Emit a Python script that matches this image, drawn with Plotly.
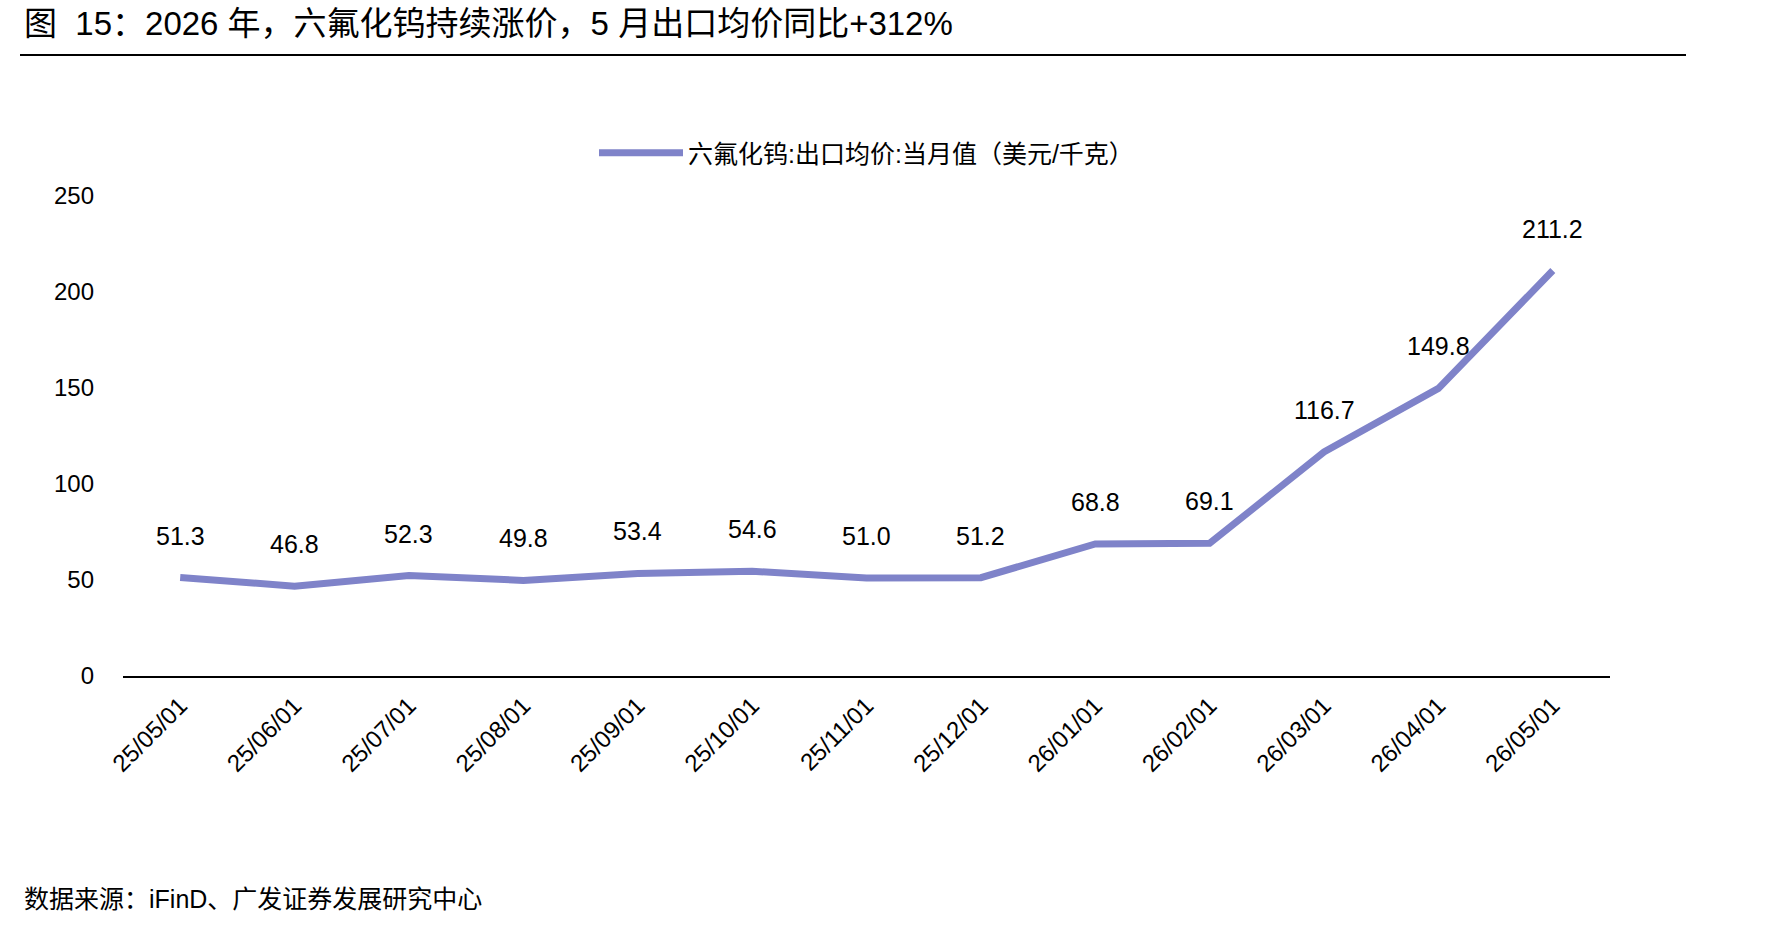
import plotly.graph_objects as go

dates = ["25/05/01", "25/06/01", "25/07/01", "25/08/01", "25/09/01", "25/10/01", "25/11/01",
         "25/12/01", "26/01/01", "26/02/01", "26/03/01", "26/04/01", "26/05/01"]
prices = [51.3, 46.8, 52.3, 49.8, 53.4, 54.6, 51.0, 51.2, 68.8, 69.1, 116.7, 149.8, 211.2]
series_name = "六氟化钨:出口均价:当月值（美元/千克）"
y_ticks = [0, 50, 100, 150, 200, 250]

FONT = "Arial, 'Liberation Sans', 'Noto Sans CJK SC', sans-serif"
LINE_COLOR = "#7f83c9"

L, R, T, B = 123, 180, 196, 250
W = 1790 - L - R
H = 926 - T - B

fig = go.Figure()
fig.add_trace(go.Scatter(
    x=dates, y=prices, mode="lines", name=series_name,
    line=dict(color=LINE_COLOR, width=7),
))

for d, v in zip(dates, prices):
    fig.add_annotation(x=d, y=v, text=f"{v:.1f}", showarrow=False, yshift=42,
                       font=dict(size=25, color="#000000", family=FONT))

fig.add_annotation(xref="paper", yref="paper", x=0, y=1, xanchor="left", yanchor="middle",
                   text="图\u00a0 15：2026 年，六氟化钨持续涨价，5 月出口均价同比+312%",
                   showarrow=False, xshift=-(L - 22), yshift=T - 23,
                   font=dict(size=33, color="#000000", family=FONT))
fig.add_annotation(xref="paper", yref="paper", x=0, y=0, xanchor="left", yanchor="middle",
                   text="数据来源：iFinD、广发证券发展研究中心",
                   showarrow=False, xshift=-(L - 22), yshift=-(899 - (926 - B)),
                   font=dict(size=25, color="#000000", family=FONT))

line_y = 1 + (T - 55) / H
fig.add_shape(type="line", xref="paper", yref="paper",
              x0=(20 - L) / W, x1=(1686 - L) / W, y0=line_y, y1=line_y,
              line=dict(color="#000000", width=2))

fig.update_layout(
    width=1790, height=926,
    margin=dict(l=L, r=R, t=T, b=B),
    paper_bgcolor="white", plot_bgcolor="white",
    font=dict(family=FONT, color="#000000"),
    showlegend=True,
    legend=dict(orientation="h", x=0.5, xanchor="center", y=1 + (T - 153) / H, yanchor="middle",
                font=dict(size=25, color="#000000", family=FONT),
                itemwidth=84),
    xaxis=dict(type="category", range=[-0.5, len(dates) - 0.5], showgrid=False,
               showline=True, linecolor="#000000", linewidth=2, ticks="",
               ticklabelstandoff=4,
               tickangle=-45, tickfont=dict(size=24, color="#000000", family=FONT)),
    yaxis=dict(range=[0, 250], tickvals=y_ticks, showgrid=False, zeroline=False,
               showline=False, ticks="", ticklabelstandoff=28,
               tickfont=dict(size=24, color="#000000", family=FONT)),
)

fig.write_html("out.html")
